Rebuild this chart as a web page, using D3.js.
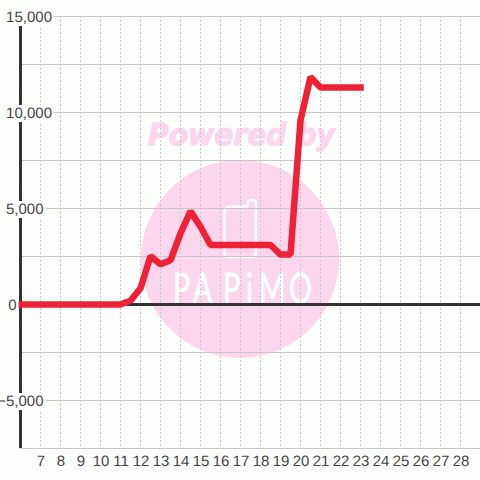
<!DOCTYPE html>
<html>
<head>
<meta charset="utf-8">
<script src="https://cdn.jsdelivr.net/npm/d3@7"></script>
<style>
  html, body { margin: 0; padding: 0; background: #fff; }
  svg { display: block; }
  text { text-rendering: geometricPrecision; }
</style>
</head>
<body>
<svg id="chart" width="480" height="480"></svg>
<script>
// values
const days = [6, 7, 8, 9, 10, 10.5, 11, 11.5, 12, 12.5, 13, 13.5, 14, 14.5, 15, 15.5, 16, 17, 18, 18.5, 19, 19.5, 20, 20.5, 21, 22, 23];
const values = [0, 0, 0, 0, 0, 0, 0, 200, 850, 2520, 2100, 2300, 3700, 4850, 4050, 3100, 3100, 3100, 3100, 3100, 2600, 2600, 9600, 11850, 11300, 11300, 11300];
const xTicks = [7, 8, 9, 10, 11, 12, 13, 14, 15, 16, 17, 18, 19, 20, 21, 22, 23, 24, 25, 26, 27, 28];
const yMajor = [15000, 10000, 5000, 0, -5000];
const yMinor = [12500, 7500, 2500, -2500, -7500];
// x pos of each y label (they are not lined up in the original)
const yLabelEnd = [52, 52, 43.5, 16.5, 43.5];
// logo letters are placed one by one
const logoX = [173, 193, 223, 246, 259, 289];

const svg = d3.select("#chart");
const x = d3.scaleLinear().domain([6, 29]).range([20.5, 480.5]);
const y = d3.scaleLinear().domain([15000, -7500]).range([16.5, 448.5]);
const fmt = d3.format(",");

svg.append("rect").attr("width", 480).attr("height", 480).attr("fill", "#fdfffd");

// watermark
const mark = svg.append("g");
mark.append("text").attr("x", 148).attr("y", 145)
  .attr("font-family", "DejaVu Sans").attr("font-weight", "bold").attr("font-style", "italic")
  .attr("font-size", 30).attr("fill", "#fcd6ee").attr("stroke", "#fcd6ee").attr("stroke-width", 1.2)
  .attr("textLength", 187).attr("lengthAdjust", "spacingAndGlyphs")
  .text("Powered by");
mark.append("circle").attr("cx", 240).attr("cy", 259).attr("r", 99).attr("fill", "#fbd6ed");
mark.append("path")
  .attr("d", "M231 206.500 H246 Q248 206.500 248 203 Q248 200 252 200 Q256 200 256 204 V252 Q256 257 251 257 H229 Q224.500 257 224.500 252 V213 Q224.500 206.500 231 206.500 Z")
  .attr("fill", "none").attr("stroke", "#fff").attr("stroke-width", 2.5);
const logoScale = 0.68;
mark.append("text")
  .attr("transform", "scale(" + logoScale + ",1)")
  .attr("x", logoX.map(v => v / logoScale).join(" ")).attr("y", 303)
  .attr("font-family", "Lato").attr("font-size", 42).attr("fill", "#fff")
  .attr("stroke", "#fff").attr("stroke-width", 0.7)
  .text("PAPiMO");

// grid
svg.append("g").selectAll("line").data(xTicks).enter().append("line")
  .attr("x1", d => x(d)).attr("x2", d => x(d))
  .attr("y1", 16).attr("y2", 448)
  .attr("stroke", "#c8c8c8").attr("stroke-dasharray", "2,2");
svg.append("g").selectAll("line").data(yMajor.concat(yMinor)).enter().append("line")
  .attr("x1", 20).attr("x2", 480)
  .attr("y1", d => y(d)).attr("y2", d => y(d))
  .attr("stroke", d => d === 0 ? "none" : "#c8c8c8");

// axes
svg.append("line").attr("x1", 20).attr("x2", 480).attr("y1", y(0)).attr("y2", y(0))
  .attr("stroke", "#333").attr("stroke-width", 3);
svg.append("line").attr("x1", 20.5).attr("x2", 20.5).attr("y1", 16).attr("y2", 448)
  .attr("stroke", "#333").attr("stroke-width", 3);

// series
const line = d3.line().x(d => x(d[0])).y(d => y(d[1]));
svg.append("path").datum(days.map((d, i) => [d, values[i]]))
  .attr("d", line).attr("fill", "none")
  .attr("stroke", "#ee2135").attr("stroke-width", 6.5)
  .attr("stroke-linejoin", "bevel").attr("stroke-linecap", "square");

// labels
const labels = svg.append("g").attr("font-family", "Liberation Sans").attr("font-size", 15).attr("fill", "#444");
yMajor.forEach((v, i) => {
  const t = labels.append("text").attr("x", yLabelEnd[i]).attr("y", y(v) + 5.5)
    .attr("text-anchor", "end").text(fmt(v));
  const b = t.node().getBBox();
  labels.insert("rect", "text").attr("x", b.x).attr("y", b.y).attr("width", b.width + 2).attr("height", b.height)
    .attr("fill", "#fdfffd");
});
labels.selectAll("text.xt").data(xTicks).enter().append("text").attr("class", "xt")
  .attr("x", d => x(d) + 0.5).attr("y", 466).attr("text-anchor", "middle").text(d => d);
</script>
</body>
</html>
